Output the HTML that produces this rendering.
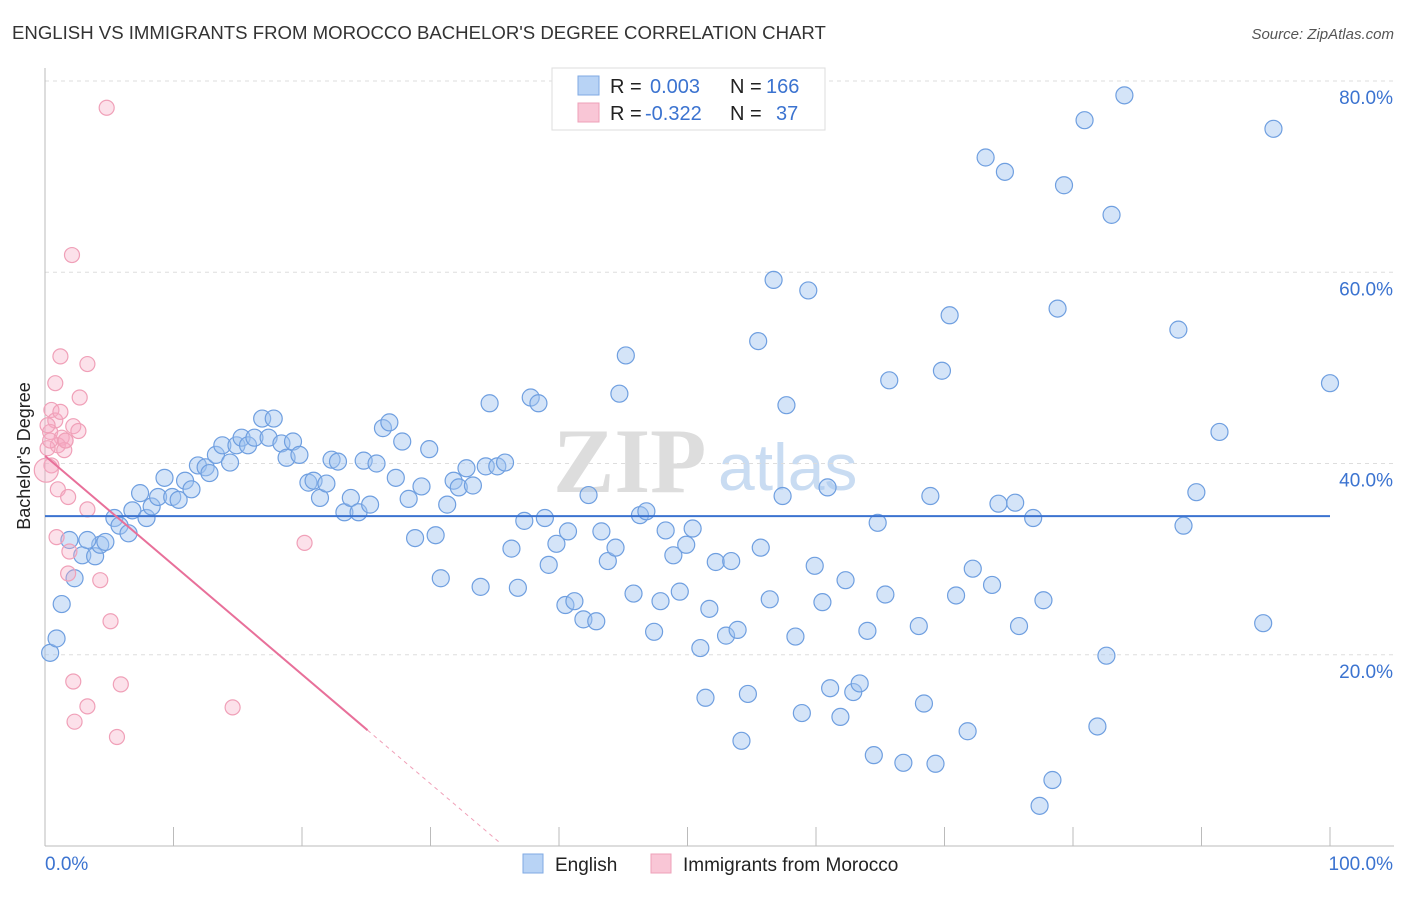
<!DOCTYPE html>
<html><head><meta charset="utf-8"><style>
body{margin:0;background:#fff;font-family:"Liberation Sans",sans-serif;}
</style></head><body>
<svg id="chart" width="1406" height="892" xmlns="http://www.w3.org/2000/svg">
<text x="12" y="39" font-size="18.6" fill="#333">ENGLISH VS IMMIGRANTS FROM MOROCCO BACHELOR'S DEGREE CORRELATION CHART</text>
<text x="1394" y="39" font-size="15" fill="#555" font-style="italic" text-anchor="end">Source: ZipAtlas.com</text>
<g><text x="553" y="492" font-size="92" fill="#ddd" font-family="Liberation Serif" font-weight="bold">ZIP</text><text x="718" y="490" font-size="66" fill="#c9dcf2">atlas</text></g>
<g id="grid"></g>
<g id="ticks"></g>
<text x="30" y="456" font-size="18" fill="#222" transform="rotate(-90 30 456)" text-anchor="middle">Bachelor's Degree</text>
<g id="pts"></g>
<g id="trend"></g>
<g>
<rect x="552" y="68" width="273" height="62" fill="#fff" stroke="#ddd"/>
<rect x="578" y="76" width="21" height="19" fill="#b8d3f5" stroke="#7fa9e3"/>
<rect x="578" y="103" width="21" height="19" fill="#f9c6d6" stroke="#eea0b8"/>
<text x="610" y="93" font-size="20" fill="#222">R = </text><text x="650" y="93" font-size="20" fill="#3b73d0">0.003</text>
<text x="730" y="93" font-size="20" fill="#222">N = </text><text x="766" y="93" font-size="20" fill="#3b73d0">166</text>
<text x="610" y="120" font-size="20" fill="#222">R = </text><text x="645" y="120" font-size="20" fill="#3b73d0">-0.322</text>
<text x="730" y="120" font-size="20" fill="#222">N = </text><text x="776" y="120" font-size="20" fill="#3b73d0">37</text>
</g>
<g>
<rect x="523" y="854" width="20" height="19" fill="#b8d3f5" stroke="#7fa9e3"/>
<text x="555" y="871" font-size="19" fill="#222">English</text>
<rect x="651" y="854" width="20" height="19" fill="#f9c6d6" stroke="#eea0b8"/>
<text x="683" y="871" font-size="19" fill="#222">Immigrants from Morocco</text>
</g>
</svg>
<script>
const xTicks=[0,10,20,30,40,50,60,70,80,90,100];
const yTicks=[20,40,60,80];
const xLabels=["0.0%","100.0%"];
const engX=[0.4,0.9,1.3,2.3,1.9,2.9,3.9,4.3,3.3,4.7,5.4,5.8,6.5,6.8,7.4,7.9,8.3,8.8,9.3,9.9,10.4,10.9,11.4,11.9,12.5,12.8,13.3,13.8,14.4,14.9,15.3,15.8,16.3,16.9,17.4,17.8,18.4,18.8,19.3,19.8,20.5,20.9,21.4,21.9,22.3,22.8,23.3,23.8,24.4,24.8,25.3,25.8,26.3,26.8,27.3,27.8,28.3,28.8,29.3,29.9,30.4,30.8,31.3,31.8,32.2,32.8,33.3,33.9,34.3,34.6,35.2,35.8,36.3,36.8,37.3,37.8,38.4,38.9,39.2,39.8,40.5,40.7,41.2,41.9,42.3,42.9,43.3,43.8,44.4,44.7,45.2,45.8,46.3,46.8,47.4,47.9,48.3,48.9,49.4,49.9,50.4,51.0,51.4,51.7,52.2,53.0,53.4,53.9,54.2,54.7,55.5,55.7,56.4,56.7,57.4,57.7,58.4,58.9,59.4,59.9,60.5,60.9,61.1,61.9,62.3,62.9,63.4,64.0,64.5,64.8,65.4,65.7,66.8,68.0,68.4,68.9,69.3,69.8,70.4,70.9,71.8,72.2,73.2,73.7,74.2,74.7,75.5,75.8,76.9,77.4,77.7,78.4,78.8,79.3,80.9,81.9,82.6,83.0,84.0,88.2,88.6,89.6,91.4,94.8,95.6,100.0];
const engY=[20.2,21.7,25.3,28.0,32.0,30.4,30.3,31.5,32.0,31.8,34.3,33.5,32.7,35.1,36.9,34.3,35.5,36.5,38.5,36.5,36.2,38.2,37.3,39.8,39.6,39.0,40.9,41.9,40.1,41.9,42.7,41.9,42.7,44.7,42.7,44.7,42.1,40.6,42.3,40.9,38.0,38.2,36.4,37.9,40.4,40.2,34.9,36.4,34.9,40.3,35.7,40.0,43.7,44.3,38.5,42.3,36.3,32.2,37.6,41.5,32.5,28.0,35.7,38.2,37.5,39.5,37.7,27.1,39.7,46.3,39.7,40.1,31.1,27.0,34.0,46.9,46.3,34.3,29.4,31.6,25.2,32.9,25.6,23.7,36.7,23.5,32.9,29.8,31.2,47.3,51.3,26.4,34.6,35.0,22.4,25.6,33.0,30.4,26.6,31.5,33.2,20.7,15.5,24.8,29.7,22.0,29.8,22.6,11.0,15.9,52.8,31.2,25.8,59.2,36.6,46.1,21.9,13.9,58.1,29.3,25.5,37.5,16.5,13.5,27.8,16.1,17.0,22.5,9.5,33.8,26.3,48.7,8.7,23.0,14.9,36.6,8.6,49.7,55.5,26.2,12.0,29.0,72.0,27.3,35.8,70.5,35.9,23.0,34.3,4.2,25.7,6.9,56.2,69.1,75.9,12.5,19.9,66.0,78.5,54.0,33.5,37.0,43.3,23.3,75.0,48.4];
const morX=[4.8,2.1,1.2,3.3,0.8,2.7,0.5,0.8,2.2,2.6,0.4,1.3,1.6,1.0,0.2,1.5,0.5,0.1,1.0,1.8,3.3,0.9,1.9,1.8,4.3,5.1,20.2,2.2,5.9,3.3,14.6,2.3,5.6,0.4,1.2,0.2,1.6];
const morY=[77.2,61.8,51.2,50.4,48.4,46.9,45.6,44.5,43.9,43.4,43.3,42.7,42.4,41.9,41.6,41.4,39.8,39.3,37.3,36.5,35.2,32.3,30.8,28.5,27.8,23.5,31.7,17.2,16.9,14.6,14.5,13.0,11.4,42.4,45.4,44.0,42.4];
const engTrend=[34.5,34.5];
const morTrend=[40.8,-73.5];
const X0=45,X1=1330,Y0=846,Y80=81;
const sx=v=>X0+(X1-X0)*v/100;
const sy=v=>Y0-(Y0-Y80)*v/80;
const NS="http://www.w3.org/2000/svg";
function mk(tag,parent,attrs){const e=document.createElementNS(NS,tag);for(const k in attrs)e.setAttribute(k,attrs[k]);parent.appendChild(e);return e;}
const svg=document.getElementById('chart');
const grid=document.getElementById('grid'),ticks=document.getElementById('ticks');
yTicks.forEach(v=>{
 const l=mk('line',grid,{x1:X0,x2:1394,y1:sy(v),y2:sy(v),stroke:'#ddd','stroke-dasharray':'4,4'});
 
 
 const t=mk('text',ticks,{x:1393,y:sy(v)+23,'font-size':19,fill:'#3b73d0','text-anchor':'end'});
 t.textContent=v.toFixed(1)+'%';
 
 
});
const ax=mk('line',ticks,{x1:X0,x2:1394,y1:Y0,y2:Y0,stroke:'#bbb'});


const ay=mk('line',ticks,{x1:X0,x2:X0,y1:68,y2:Y0,stroke:'#bbb'});


xTicks.forEach(v=>{
 const l=mk('line',ticks,{x1:sx(v),x2:sx(v),y1:Y0-19,y2:Y0,stroke:'#bbb'});
 
 
});
[[0,xLabels[0],'start',45],[100,xLabels[1],'end',1393]].forEach(a=>{
 const t=mk('text',ticks,{x:a[3],y:870,'font-size':19,fill:'#3b73d0','text-anchor':a[2]});
 t.textContent=a[1];
 
 
});
const pts=document.getElementById('pts');
engX.forEach((x,i)=>{
 const c=mk('circle',pts,{cx:sx(x),cy:sy(engY[i]),r:8.5,fill:'rgba(160,195,240,0.45)',stroke:'#6f9fe0','stroke-width':1.2});
 
 
});
morX.forEach((x,i)=>{
 const c=mk('circle',pts,{cx:sx(x),cy:sy(morY[i]),r:i==17?12:7.5,fill:'rgba(245,170,195,0.35)',stroke:'#f0a0b8','stroke-width':1.2});
 
 
});
const tr=document.getElementById('trend');
const e=mk('line',tr,{x1:sx(0),x2:sx(100),y1:sy(engTrend[0]),y2:sy(engTrend[1]),stroke:'#3b73d0','stroke-width':2});


const mY=x=>morTrend[0]+(morTrend[1]-morTrend[0])*x/100;
const m1=mk('line',tr,{x1:sx(0),x2:sx(25.1),y1:sy(mY(0)),y2:sy(mY(25.1)),stroke:'#e8709a','stroke-width':2});


const m2=mk('line',tr,{x1:sx(25.1),x2:sx(35.4),y1:sy(mY(25.1)),y2:sy(mY(35.4)),stroke:'#f0a0b8','stroke-width':1,'stroke-dasharray':'4,4'});


</script>
</body></html>
